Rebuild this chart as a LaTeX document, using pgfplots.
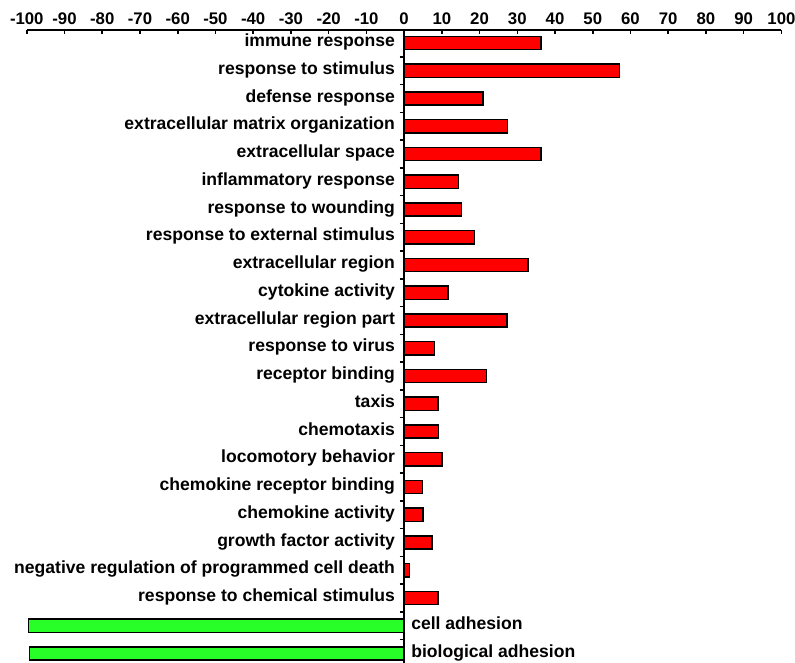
\documentclass[border=0pt]{standalone}
\usepackage{fontspec}
\setmainfont{Liberation Sans}
\usepackage{pgfplots}
\usepackage{pgfplotstable}
\pgfplotsset{compat=1.18}
\definecolor{barred}{RGB}{255,0,0}
\definecolor{bargreen}{RGB}{40,255,40}
\pgfplotstableread{
y x
0 36.3
1 57.1
2 20.9
3 27.4
4 36.3
5 14.4
6 15.2
7 18.7
8 32.8
9 11.6
10 27.3
11 8.0
12 21.9
13 9.0
14 9.1
15 10.0
16 4.9
17 5.0
18 7.4
19 1.5
20 9.0
}\up
\pgfplotstableread{
y x
21 -99.5
22 -99.3
}\down
\begin{document}
\begin{tikzpicture}[font=\fontsize{17.6bp}{20bp}\selectfont\bfseries]
\begin{axis}[
  scale only axis,
  x=3.78bp, y=27.8bp, y dir=reverse,
  xmin=-100, xmax=100, ymin=-0.47, ymax=22.36,
  axis x line*=top, axis y line*=middle,
  xtick={-100,-90,...,100},
  ytick={0.5,1.5,...,21.5}, yticklabels={},
  tick align=inside, major tick length=4.5bp,
  xticklabel style={font=\fontsize{16.8bp}{20bp}\selectfont\bfseries, yshift=1.5bp},
  /pgf/number format/assume math mode=true,
  axis line style={line width=1.6bp, black},
  tick style={line width=1.6bp, black},
  clip=false,
  xbar, bar width=13.3bp, bar shift=0pt,
]
\addplot[fill=barred, draw=black, line width=1.4bp] table[x=x,y=y] {\up};
\addplot[fill=bargreen, draw=black, line width=1.4bp] table[x=x,y=y] {\down};
\begin{scope}[every node/.style={anchor=mid east, xshift=-9bp, yshift=-1bp, inner sep=0pt}]
\node at (axis cs:0,0) {immune response};
\node at (axis cs:0,1) {response to stimulus};
\node at (axis cs:0,2) {defense response};
\node at (axis cs:0,3) {extracellular matrix organization};
\node at (axis cs:0,4) {extracellular space};
\node at (axis cs:0,5) {inflammatory response};
\node at (axis cs:0,6) {response to wounding};
\node at (axis cs:0,7) {response to external stimulus};
\node at (axis cs:0,8) {extracellular region};
\node at (axis cs:0,9) {cytokine activity};
\node at (axis cs:0,10) {extracellular region part};
\node at (axis cs:0,11) {response to virus};
\node at (axis cs:0,12) {receptor binding};
\node at (axis cs:0,13) {taxis};
\node at (axis cs:0,14) {chemotaxis};
\node at (axis cs:0,15) {locomotory behavior};
\node at (axis cs:0,16) {chemokine receptor binding};
\node at (axis cs:0,17) {chemokine activity};
\node at (axis cs:0,18) {growth factor activity};
\node at (axis cs:0,19) {negative regulation of programmed cell death};
\node at (axis cs:0,20) {response to chemical stimulus};
\end{scope}
\begin{scope}[every node/.style={anchor=mid west, xshift=7bp, yshift=-1bp, inner sep=0pt}]
\node at (axis cs:0,21) {cell adhesion};
\node at (axis cs:0,22) {biological adhesion};
\end{scope}
\coordinate (tl) at (axis cs:-107.1,-1.55);
\coordinate (br) at (axis cs:103.6,22.34);
\end{axis}
\pgfresetboundingbox
\path (tl) rectangle (br);
\end{tikzpicture}
\end{document}
